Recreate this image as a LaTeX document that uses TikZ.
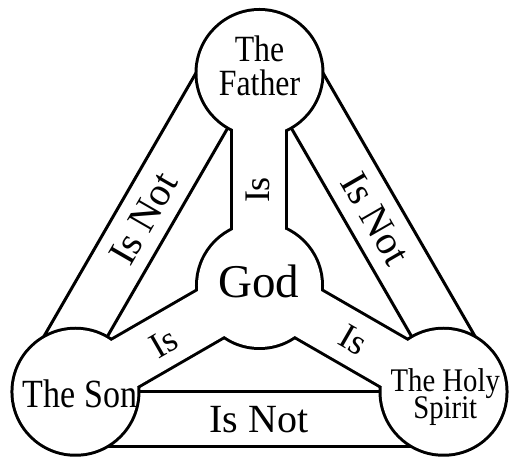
\documentclass[tikz,border=0pt]{standalone}
\usepackage{fontspec}
\setmainfont{Liberation Serif}
\usepackage{graphicx}
\usetikzlibrary{calc}
\newcommand\trinityshapes{%
  \path[shp] (F) circle[radius=62];
  \path[shp] (S) circle[radius=62];
  \path[shp] (H) circle[radius=62];
  \path[shp] (O) circle[radius=61.5];
  \path[shp] ($(O)+(0:26)$) -- ($(F)+(0:26)$) -- ($(F)+(180:26)$) -- ($(O)+(180:26)$) -- cycle;
  \path[shp] ($(O)+(120:26)$) -- ($(S)+(120:26)$) -- ($(S)+(300:26)$) -- ($(O)+(300:26)$) -- cycle;
  \path[shp] ($(O)+(60:26)$) -- ($(H)+(60:26)$) -- ($(H)+(240:26)$) -- ($(O)+(240:26)$) -- cycle;
}
\begin{document}
\begin{tikzpicture}[x=1pt,y=1pt,
  lbl/.style={inner sep=0pt, outer sep=0pt},
  edge/.style={draw=black, line width=3pt},
  bandfont/.style={font=\fontsize{40}{40}\selectfont},
  isfont/.style={font=\fontsize{36}{36}\selectfont}]
\useasboundingbox (-259.5,-182.5) rectangle (260.5,285.5);
\coordinate (O) at (0,0);
\coordinate (F) at (90:212.5);
\coordinate (S) at (210:212.5);
\coordinate (H) at (330:212.5);
% outer "Is Not" bands (their ends are hidden under the circles)
\fill[white] (F) -- (S) -- ($(S)+(150:55)$) -- ($(F)+(150:55)$) -- cycle;
\fill[white] (S) -- (H) -- ($(H)+(270:55)$) -- ($(S)+(270:55)$) -- cycle;
\fill[white] (H) -- (F) -- ($(F)+(30:55)$) -- ($(H)+(30:55)$) -- cycle;
\draw[edge] (F) -- (S);
\draw[edge] ($(F)+(150:55)$) -- ($(S)+(150:55)$);
\draw[edge] (S) -- (H);
\draw[edge] ($(S)+(270:55)$) -- ($(H)+(270:55)$);
\draw[edge] (H) -- (F);
\draw[edge] ($(H)+(30:55)$) -- ($(F)+(30:55)$);
% circles joined by the "Is" spokes, outlined as one shape
\begin{scope}[shp/.style={draw=black,line width=6pt}]\trinityshapes\end{scope}
\begin{scope}[shp/.style={fill=white}]\trinityshapes\end{scope}
% circle labels
\node[lbl, font=\fontsize{37}{34}\selectfont, align=center] (father) at (0,219.3)
  {\scalebox{0.86}[1]{The}\\\scalebox{0.86}[1]{Father}};
\node[lbl, font=\fontsize{47}{47}\selectfont, anchor=base] (god) at (-0.5,-12.5) {God};
\node[lbl, font=\fontsize{40}{40}\selectfont, anchor=base] (son) at (-179.6,-122.2)
  {\scalebox{0.85}[1]{The Son}};
\node[lbl, font=\fontsize{33}{27}\selectfont, align=center] (spirit) at (185.8,-111.5)
  {\scalebox{0.87}[1]{The Holy}\\[-3.4pt]\scalebox{0.87}[1]{Spirit}};
% band labels
\node[lbl, bandfont, anchor=base] (isnotSH) at (-0.6,-146.8) {Is Not};
\node[lbl, bandfont, rotate=60] (isnotFS) at ($(F)!0.5!(S)+(150:27.5)$) {Is Not};
\node[lbl, bandfont, rotate=-60] (isnotHF) at ($(H)!0.5!(F)+(30:27.5)$) {Is Not};
% spoke labels
\node[lbl, isfont, rotate=90] (isF) at (-2,95.5) {Is};
\node[lbl, isfont, rotate=30] (isS) at (-95.5,-57.5) {Is};
\node[lbl, isfont, rotate=-30] (isH) at (94,-54) {Is};
\end{tikzpicture}
\end{document}
